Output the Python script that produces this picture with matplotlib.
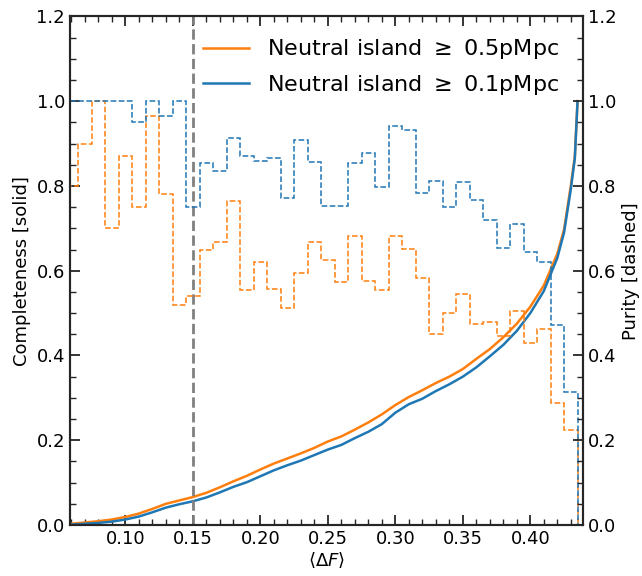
import numpy as np
import matplotlib
matplotlib.use('Agg')
import matplotlib.pyplot as plt
from matplotlib.ticker import MultipleLocator

# purity histogram bins (centres 0.06 ... 0.43, width 0.01)
bin_centres = np.round(np.arange(0.06, 0.435, 0.01), 3)
purity_05 = [0.80, 0.90, 1.00, 0.70, 0.87, 0.75, 0.965, 0.78, 0.52, 0.54,
             0.65, 0.667, 0.765, 0.555, 0.62, 0.558, 0.512, 0.595, 0.667, 0.626,
             0.573, 0.681, 0.575, 0.555, 0.683, 0.652, 0.583, 0.451, 0.50, 0.544,
             0.475, 0.478, 0.445, 0.504, 0.43, 0.463, 0.288, 0.225]
purity_01 = [1.0, 1.0, 1.0, 1.0, 1.0, 0.95, 1.0, 0.965, 1.0, 0.75,
             0.855, 0.835, 0.914, 0.87, 0.86, 0.867, 0.772, 0.908, 0.857, 0.752,
             0.753, 0.853, 0.877, 0.797, 0.942, 0.932, 0.784, 0.812, 0.751, 0.81,
             0.768, 0.719, 0.654, 0.711, 0.645, 0.62, 0.473, 0.315]

# completeness curves
comp_x = [0.06, 0.07, 0.08, 0.09, 0.10, 0.11, 0.12, 0.13, 0.14, 0.15,
          0.16, 0.17, 0.18, 0.19, 0.20, 0.21, 0.22, 0.23, 0.24, 0.25,
          0.26, 0.27, 0.28, 0.29, 0.30, 0.31, 0.32, 0.33, 0.34, 0.35,
          0.36, 0.37, 0.38, 0.39, 0.40, 0.41, 0.42, 0.425, 0.43, 0.433, 0.435]
comp_05 = [0.003, 0.006, 0.009, 0.013, 0.019, 0.027, 0.038, 0.050, 0.058, 0.066,
           0.076, 0.089, 0.103, 0.116, 0.131, 0.145, 0.157, 0.169, 0.182, 0.197,
           0.209, 0.225, 0.242, 0.261, 0.283, 0.302, 0.318, 0.335, 0.350, 0.368,
           0.392, 0.415, 0.443, 0.475, 0.515, 0.565, 0.640, 0.697, 0.800, 0.87, 1.0]
comp_01 = [0.001, 0.003, 0.005, 0.008, 0.013, 0.020, 0.030, 0.041, 0.049, 0.056,
           0.065, 0.077, 0.090, 0.101, 0.115, 0.129, 0.141, 0.152, 0.165, 0.178,
           0.189, 0.205, 0.220, 0.238, 0.265, 0.285, 0.298, 0.316, 0.332, 0.350,
           0.372, 0.398, 0.425, 0.458, 0.500, 0.552, 0.630, 0.690, 0.792, 0.865, 1.0]

c_orange = '#ff7f0e'
c_blue = '#1f77b4'

plt.rcParams['font.family'] = 'DejaVu Sans'
plt.rcParams['axes.linewidth'] = 1.5
plt.rcParams['axes.edgecolor'] = '#262626'

fig = plt.figure(figsize=(6.42, 5.76), dpi=100)
ax1 = fig.add_axes([0.109, 0.0885, 0.799, 0.883])
ax2 = ax1.twinx()

ax1.plot(comp_x, comp_05, color=c_orange, lw=1.8, label=r'Neutral island $\geq$ 0.5pMpc')
ax1.plot(comp_x, comp_01, color=c_blue, lw=1.8, label=r'Neutral island $\geq$ 0.1pMpc')
ax1.axvline(0.15, color='gray', ls='--', lw=2)

edges = np.round(np.append(bin_centres - 0.005, bin_centres[-1] + 0.005), 4)
ax2.stairs(purity_05, edges, baseline=0, color=c_orange, ls='--', lw=1.1)
ax2.stairs(purity_01, edges, baseline=0, color=c_blue, ls='--', lw=1.1)

for ax in (ax1, ax2):
    ax.set_xlim(0.059, 0.439)
    ax.set_ylim(0, 1.2)
    ax.xaxis.set_major_locator(MultipleLocator(0.05))
    ax.xaxis.set_minor_locator(MultipleLocator(0.01))
    ax.yaxis.set_major_locator(MultipleLocator(0.2))
    ax.yaxis.set_minor_locator(MultipleLocator(0.05))
    ax.tick_params(which='both', direction='in', labelsize=13, color='#262626')
    ax.tick_params(which='major', length=7, width=1.3)
    ax.tick_params(which='minor', length=4, width=1)
ax1.tick_params(which='both', top=True)

ax1.set_xlabel(r'$\langle\Delta F\rangle$', fontsize=13, labelpad=2)
ax1.set_ylabel('Completeness [solid]', fontsize=13)
ax2.set_ylabel('Purity [dashed]', fontsize=13)

h, l = ax1.get_legend_handles_labels()
ax2.legend(h, l, loc='upper right', bbox_to_anchor=(0.993, 0.998), frameon=False,
           fontsize=16, handlelength=2.1, labelspacing=0.5)

fig.savefig('out.png', dpi=100)
